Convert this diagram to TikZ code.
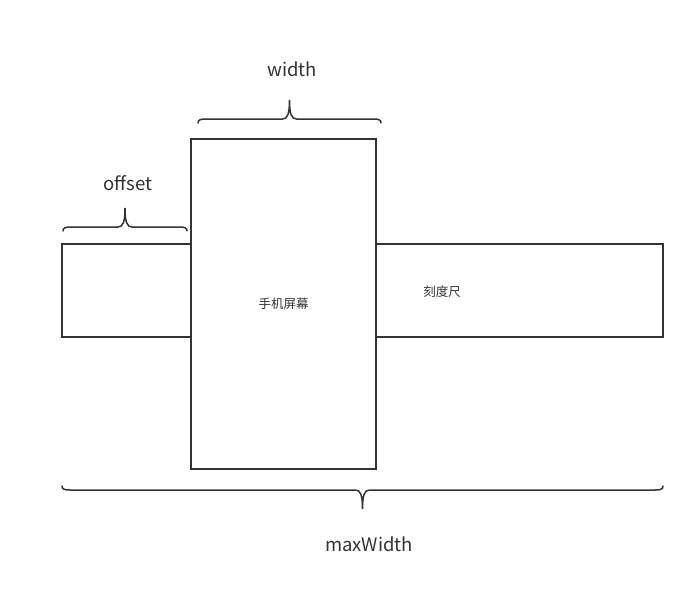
\documentclass[tikz,border=0pt]{standalone}
\usepackage{fontspec}
\setmainfont{Noto Sans CJK SC}
\definecolor{ink}{HTML}{333333}
\newcommand{\curlybrace}[4]{%
  \pgfmathsetmacro\bm{(#1+#2)/2}%
  \draw[bracestyle] (#1,{#3-4*#4}) .. controls (#1,{#3-1*#4}) and ({#1+2},#3) .. ({#1+8},#3)
    -- ({\bm-7},#3) .. controls ({\bm-2},#3) and (\bm,{#3+5*#4}) .. (\bm,{#3+19*#4})
    .. controls (\bm,{#3+5*#4}) and ({\bm+2},#3) .. ({\bm+7},#3)
    -- ({#2-8},#3) .. controls ({#2-2},#3) and (#2,{#3-1*#4}) .. (#2,{#3-4*#4});}
\begin{document}
\begin{tikzpicture}[x=1pt,y=-1pt,
  boxstyle/.style={draw=ink,line width=1.8pt},
  bracestyle/.style={draw=ink,line width=1.5pt,line cap=round},
  labelstyle/.style={text=ink,font=\fontsize{18.5}{21}\selectfont,inner sep=0pt},
  cjkstyle/.style={text=ink,font=\fontsize{12.5}{14}\selectfont,inner sep=0pt}]
\useasboundingbox (0,0) rectangle (695,595);
\draw[boxstyle] (62,244) rectangle (663,337);
\filldraw[boxstyle,fill=white] (191,139) rectangle (376,469);
\node[cjkstyle] (screentext) at (283.5,304) {手机屏幕};
\node[cjkstyle] (ruler) at (442,292) {刻度尺};
\curlybrace{198}{381}{119}{-1}
\curlybrace{63}{187}{227}{-1}
\curlybrace{62}{663}{490}{1}
\node[labelstyle] (width) at (292,69) {width};
\node[labelstyle] (offset) at (128,183) {offset};
\node[labelstyle] (maxw) at (369,544) {maxWidth};
\end{tikzpicture}
\end{document}
